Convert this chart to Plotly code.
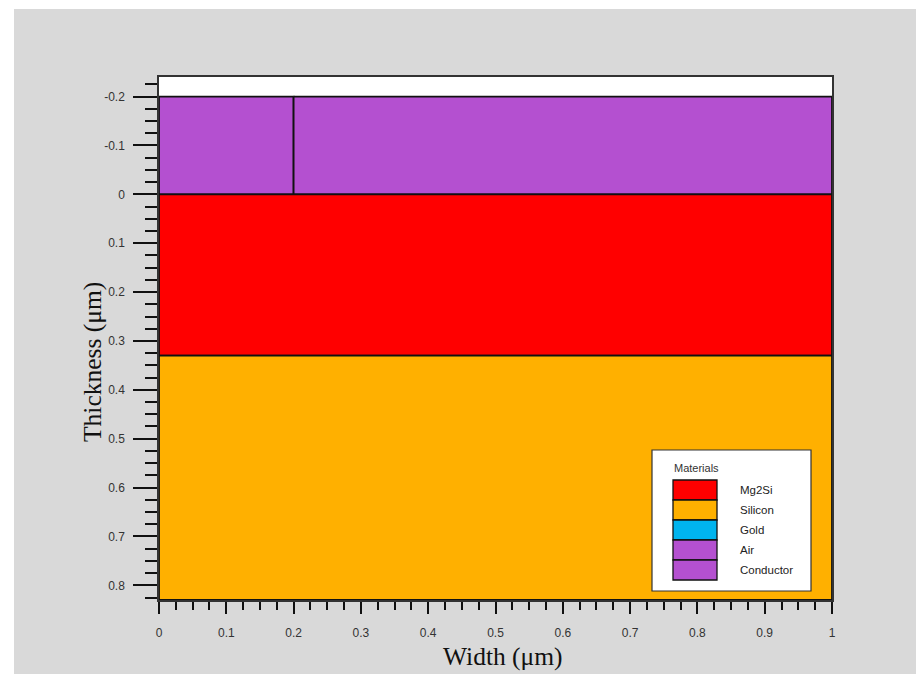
import plotly.graph_objects as go

# ---- data ----
region_names = ["Conductor", "Air", "Mg2Si", "Silicon"]
region_x0 = [0.0, 0.2, 0.0, 0.0]
region_x1 = [0.2, 1.0, 1.0, 1.0]
region_y0 = [-0.2, -0.2, 0.0, 0.33]
region_y1 = [0.0, 0.0, 0.33, 0.83]

materials = ["Mg2Si", "Silicon", "Gold", "Air", "Conductor"]
material_colors = ["#FF0000", "#FFB000", "#00B4EF", "#B450D0", "#B450D0"]
color_of = dict(zip(materials, material_colors))

x_tickvals = [0, 0.1, 0.2, 0.3, 0.4, 0.5, 0.6, 0.7, 0.8, 0.9, 1.0]
x_ticktext = ["0", "0.1", "0.2", "0.3", "0.4", "0.5", "0.6", "0.7", "0.8", "0.9", "1"]
y_tickvals = [-0.2, -0.1, 0, 0.1, 0.2, 0.3, 0.4, 0.5, 0.6, 0.7, 0.8]
y_ticktext = ["-0.2", "-0.1", "0", "0.1", "0.2", "0.3", "0.4", "0.5", "0.6", "0.7", "0.8"]

# ---- layout geometry ----
W, H = 916, 674
ML, MR, MT, MB = 159, 84, 77, 74
PW, PH = W - ML - MR, H - MT - MB


def px(xp):
    return (xp - ML) / PW


def py(yp):
    return 1 - (yp - MT) / PH


fig = go.Figure()
for n, a, b, c, d in zip(region_names, region_x0, region_x1, region_y0, region_y1):
    fig.add_trace(go.Scatter(
        x=[a, b, b, a, a], y=[c, c, d, d, c], mode="lines", fill="toself",
        fillcolor=color_of[n], line=dict(color="#111111", width=1.8),
        hoverinfo="name", name=n, showlegend=False))

tickfont = dict(family="Liberation Sans, Arial, sans-serif", size=12, color="#333333")

fig.update_xaxes(
    range=[0, 1], tickmode="array", tickvals=x_tickvals, ticktext=x_ticktext,
    ticks="outside", ticklen=12, tickwidth=2, tickcolor="#111111",
    minor=dict(tick0=0, dtick=0.025, ticks="outside", ticklen=8, tickwidth=1.5, tickcolor="#111111"),
    showgrid=False, zeroline=False, showline=True, linecolor="#333333", linewidth=1.5, mirror=True,
    tickfont=tickfont, ticklabelstandoff=9)
fig.update_yaxes(
    range=[0.83, -0.24], tickmode="array", tickvals=y_tickvals, ticktext=y_ticktext,
    ticks="outside", ticklen=24, tickwidth=2, tickcolor="#111111",
    minor=dict(tick0=0, dtick=0.025, ticks="outside", ticklen=12, tickwidth=1.5, tickcolor="#111111"),
    showgrid=False, zeroline=False, showline=True, linecolor="#333333", linewidth=1.5, mirror=True,
    tickfont=tickfont, ticklabelstandoff=6)

shapes = []
annotations = []
# white border strips (top and left) of the picture
shapes.append(dict(type="rect", xref="paper", yref="paper", x0=px(-5), x1=px(14), y0=py(H + 5), y1=py(-5),
                   fillcolor="white", line=dict(width=0), layer="below"))
shapes.append(dict(type="rect", xref="paper", yref="paper", x0=px(-5), x1=px(W + 5), y0=py(9), y1=py(-5),
                   fillcolor="white", line=dict(width=0), layer="below"))

# legend box
shapes.append(dict(type="rect", xref="paper", yref="paper", x0=px(652), x1=px(811), y0=py(591), y1=py(450),
                   fillcolor="white", line=dict(color="#333333", width=1.2)))
annotations.append(dict(xref="paper", yref="paper", x=px(672), y=py(468), text="Materials", showarrow=False,
                        xanchor="left", yanchor="middle",
                        font=dict(family="Liberation Sans, Arial, sans-serif", size=11, color="#333333")))
for i, (m, c) in enumerate(zip(materials, material_colors)):
    top = 480 + 20 * i
    shapes.append(dict(type="rect", xref="paper", yref="paper", x0=px(673), x1=px(717), y0=py(top + 20), y1=py(top),
                       fillcolor=c, line=dict(color="#111111", width=1.3)))
    annotations.append(dict(xref="paper", yref="paper", x=px(738), y=py(top + 10), text=m, showarrow=False,
                            xanchor="left", yanchor="middle",
                            font=dict(family="Liberation Sans, Arial, sans-serif", size=11.5, color="#222222")))

# axis titles
titlefont = dict(family="Liberation Serif, Times New Roman, serif", size=25.5, color="#111111")
annotations.append(dict(xref="paper", yref="paper", x=px(503), y=py(656), text="Width (μm)", showarrow=False,
                        xanchor="center", yanchor="middle", font=titlefont))
annotations.append(dict(xref="paper", yref="paper", x=px(92), y=py(362), text="Thickness (μm)", showarrow=False,
                        xanchor="center", yanchor="middle", textangle=-90, font=titlefont))

fig.update_layout(
    width=W, height=H, margin=dict(l=ML, r=MR, t=MT, b=MB),
    paper_bgcolor="#D9D9D9", plot_bgcolor="white",
    shapes=shapes, annotations=annotations, showlegend=False)

fig.write_html("out.html")
